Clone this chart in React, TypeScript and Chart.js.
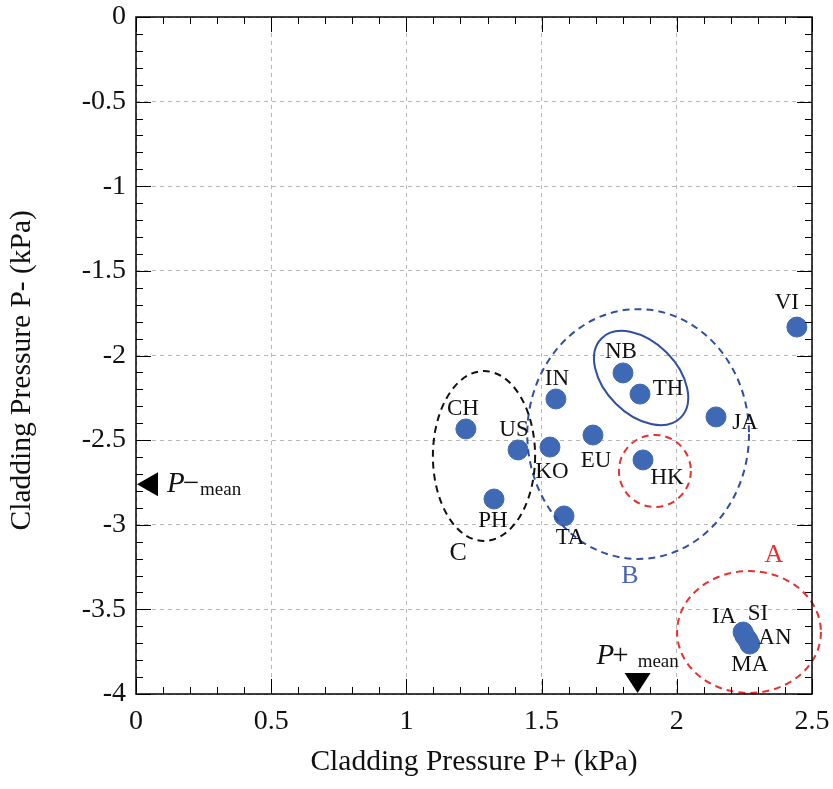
import React, { useEffect, useRef } from 'react';
import { Chart, registerables } from 'chart.js';

Chart.register(...registerables);

// ---------- data ----------
const countries = ['VI', 'NB', 'TH', 'IN', 'CH', 'US', 'JA', 'EU', 'KO', 'HK', 'PH', 'TA', 'IA', 'SI', 'AN', 'MA'];
const pPlus = [2.444, 1.801, 1.864, 1.553, 1.22, 1.413, 2.145, 1.69, 1.531, 1.875, 1.324, 1.583, 2.245, 2.252, 2.263, 2.27];
const pMinus = [-1.832, -2.103, -2.228, -2.257, -2.434, -2.558, -2.363, -2.47, -2.541, -2.617, -2.848, -2.948, -3.634, -3.658, -3.682, -3.705];
const xTickLabels = ['0', '0.5', '1', '1.5', '2', '2.5'];
const yTickLabels = ['-4', '-3.5', '-3', '-2.5', '-2', '-1.5', '-1', '-0.5', '0'];
const pPlusMean = 1.855;
const pMinusMean = -2.76;

// group annotations (data units)
const groupNames = ['A', 'B', 'C'];
const groupLabelX = [2.359, 1.827, 1.191];
const groupLabelY = [-3.179, -3.303, -3.167];

// ---------- styles ----------
const FONT = "'Liberation Serif', 'Times New Roman', serif";
const labelOffsets: [number, number][] = [
  [-10, -24], [-2, -21], [28, -5], [1, -20], [-3, -20], [-4, -20], [29, 6], [3, 26],
  [2, 25], [24, 18], [-1, 22], [6, 22], [-19, -15], [13, -22], [27, -2], [0, 21],
];
const groupColors = ['#e8312f', '#4a64b0', '#111111'];
// ellipses: center (data), radii (data units), rotation (deg), colour, dash
const ellipses = [
  { cx: 2.267, cy: -3.634, rx: 0.266, ry: 0.36, rot: 0, color: '#e8312f', dash: [7, 5] },
  { cx: 1.919, cy: -2.682, rx: 0.133, ry: 0.213, rot: 0, color: '#e8312f', dash: [7, 5] },
  { cx: 1.857, cy: -2.464, rx: 0.41, ry: 0.738, rot: 0, color: '#2f4fa3', dash: [7, 5] },
  { cx: 1.868, cy: -2.133, rx: 0.207, ry: 0.213, rot: 45, color: '#2f4fa3', dash: [] as number[] },
  { cx: 1.287, cy: -2.594, rx: 0.189, ry: 0.502, rot: 0, color: '#111111', dash: [7, 5] },
];

const decorPlugin = {
  id: 'decor',
  afterDraw(chart: any) {
    const { ctx, chartArea: a, scales } = chart;
    const xs = scales.x;
    const ys = scales.y;
    ctx.save();

    // ellipses
    ellipses.forEach((e) => {
      const cx = xs.getPixelForValue(e.cx);
      const cy = ys.getPixelForValue(e.cy);
      const rx = Math.abs(xs.getPixelForValue(e.cx + e.rx) - cx);
      const ry = Math.abs(ys.getPixelForValue(e.cy + e.ry) - cy);
      ctx.beginPath();
      ctx.setLineDash(e.dash);
      ctx.strokeStyle = e.color;
      ctx.lineWidth = 2;
      ctx.ellipse(cx, cy, rx, ry, (e.rot * Math.PI) / 180, 0, Math.PI * 2);
      ctx.stroke();
    });
    ctx.setLineDash([]);

    // point labels
    ctx.fillStyle = '#111';
    ctx.font = `23px ${FONT}`;
    ctx.textAlign = 'center';
    ctx.textBaseline = 'middle';
    countries.forEach((c, i) => {
      const px = xs.getPixelForValue(pPlus[i]) + labelOffsets[i][0];
      const py = ys.getPixelForValue(pMinus[i]) + labelOffsets[i][1];
      ctx.fillText(c, px, py);
    });

    // group labels
    ctx.font = `26px ${FONT}`;
    groupNames.forEach((g, i) => {
      ctx.fillStyle = groupColors[i];
      ctx.fillText(g, xs.getPixelForValue(groupLabelX[i]), ys.getPixelForValue(groupLabelY[i]));
    });

    // frame
    ctx.strokeStyle = '#000';
    ctx.lineWidth = 1.5;
    ctx.strokeRect(a.left, a.top, a.right - a.left, a.bottom - a.top);

    // inward ticks on all four sides
    ctx.lineWidth = 1;
    for (let k = 0; k <= 25; k++) {
      const v = k / 10;
      const x = Math.round(xs.getPixelForValue(v)) + 0.5;
      const len = k % 5 === 0 ? 15 : 7;
      ctx.beginPath();
      ctx.moveTo(x, a.bottom);
      ctx.lineTo(x, a.bottom - len);
      ctx.moveTo(x, a.top);
      ctx.lineTo(x, a.top + len);
      ctx.stroke();
    }
    for (let k = 0; k <= 40; k++) {
      const v = -k / 10;
      const y = Math.round(ys.getPixelForValue(v)) + 0.5;
      const len = k % 5 === 0 ? 15 : 7;
      ctx.beginPath();
      ctx.moveTo(a.left, y);
      ctx.lineTo(a.left + len, y);
      ctx.moveTo(a.right, y);
      ctx.lineTo(a.right - len, y);
      ctx.stroke();
    }

    // mean markers
    ctx.fillStyle = '#000';
    const my = ys.getPixelForValue(pMinusMean);
    const x0 = a.left + 1;
    ctx.beginPath();
    ctx.moveTo(x0, my);
    ctx.lineTo(x0 + 21, my - 12);
    ctx.lineTo(x0 + 21, my + 12);
    ctx.closePath();
    ctx.fill();

    const mx = xs.getPixelForValue(pPlusMean);
    const y0 = a.bottom - 1;
    ctx.beginPath();
    ctx.moveTo(mx, y0);
    ctx.lineTo(mx - 13, y0 - 20);
    ctx.lineTo(mx + 13, y0 - 20);
    ctx.closePath();
    ctx.fill();

    // mean texts
    ctx.textAlign = 'left';
    ctx.textBaseline = 'alphabetic';
    ctx.fillStyle = '#111';
    // P- mean
    let tx = x0 + 30;
    let ty = my + 8;
    ctx.font = `italic 29px ${FONT}`;
    ctx.fillText('P', tx, ty);
    tx += ctx.measureText('P').width;
    ctx.font = `29px ${FONT}`;
    ctx.fillText('\u2212', tx - 2, ty);
    tx += ctx.measureText('\u2212').width - 1;
    ctx.font = `19px ${FONT}`;
    ctx.fillText('mean', tx, ty + 3);
    // P+ mean
    tx = mx - 41;
    ty = a.bottom - 30;
    ctx.font = `italic 29px ${FONT}`;
    ctx.fillText('P', tx, ty);
    tx += ctx.measureText('P').width;
    ctx.font = `29px ${FONT}`;
    ctx.fillText('+', tx - 2, ty);
    tx += ctx.measureText('+').width + 7;
    ctx.font = `19px ${FONT}`;
    ctx.fillText('mean', tx, ty + 3);

    ctx.restore();
  },
};

export default function App() {
  const ref = useRef<HTMLCanvasElement>(null);

  useEffect(() => {
    if (!ref.current) return;
    const chart = new Chart(ref.current, {
      type: 'scatter',
      data: {
        datasets: [
          {
            data: pPlus.map((x, i) => ({ x, y: pMinus[i] })),
            backgroundColor: '#3f69b4',
            borderColor: '#3f69b4',
            pointRadius: 10,
            pointHoverRadius: 10,
          },
        ],
      },
      options: {
        animation: false,
        responsive: false,
        devicePixelRatio: 1,
        layout: { padding: { top: 17, right: 21, left: 0, bottom: 0 } },
        plugins: { legend: { display: false }, tooltip: { enabled: false } },
        scales: {
          x: {
            type: 'linear',
            min: 0,
            max: 2.5,
            ticks: {
              stepSize: 0.5,
              autoSkip: false,
              maxRotation: 0,
              color: '#111',
              font: { family: FONT, size: 28 },
              padding: 11,
              callback: (_v: any, i: number) => xTickLabels[i],
            },
            grid: { color: '#b8b8b8', lineWidth: 1, drawTicks: false },
            border: { display: false, dash: [4, 4] },
            title: {
              display: true,
              text: 'Cladding Pressure P+ (kPa)',
              color: '#111',
              font: { family: FONT, size: 29.5 },
              padding: { top: 0, bottom: 9 },
            },
            afterFit: (s: any) => {
              s.height = 95;
              s.paddingLeft = 0;
              s.paddingRight = 0;
            },
          },
          y: {
            type: 'linear',
            min: -4,
            max: 0,
            ticks: {
              stepSize: 0.5,
              autoSkip: false,
              color: '#111',
              font: { family: FONT, size: 28 },
              padding: 10,
              callback: (_v: any, i: number) => yTickLabels[i],
            },
            grid: { color: '#b8b8b8', lineWidth: 1, drawTicks: false },
            border: { display: false, dash: [4, 4] },
            title: {
              display: true,
              text: 'Cladding Pressure P- (kPa)\u2002\u2002',
              color: '#111',
              font: { family: FONT, size: 29.5 },
              padding: { top: 5, bottom: 0 },
            },
            afterFit: (s: any) => {
              s.width = 136;
              s.paddingTop = 0;
              s.paddingBottom = 0;
            },
          },
        },
      },
      plugins: [decorPlugin],
    });
    return () => chart.destroy();
  }, []);

  return (
    <div style={{ position: 'absolute', left: 0, top: 0, width: 833, height: 789, background: '#fff' }}>
      <canvas ref={ref} width={833} height={789} />
    </div>
  );
}
